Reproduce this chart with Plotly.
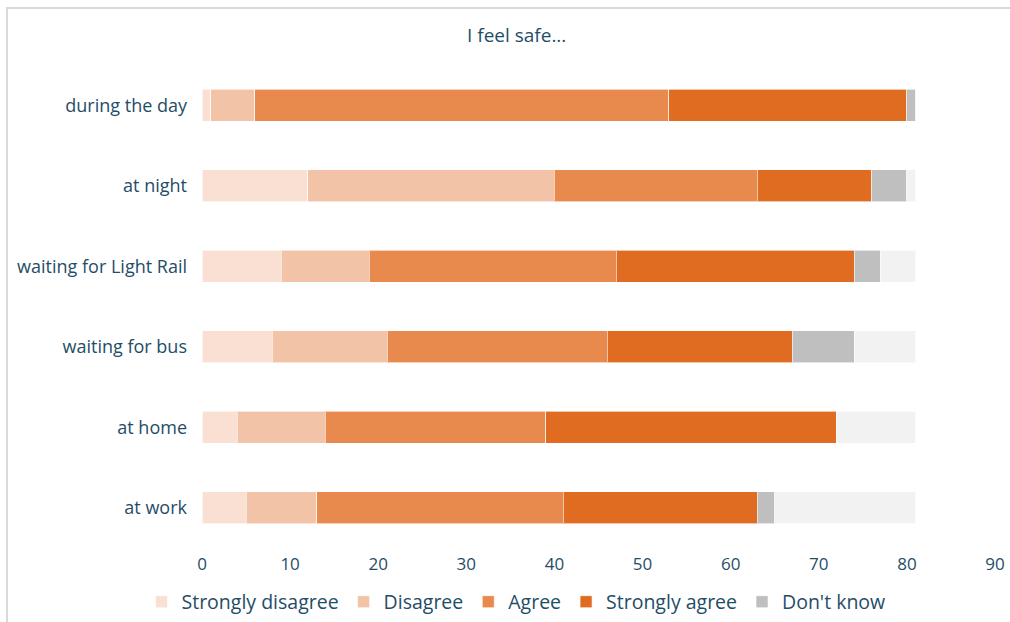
import plotly.graph_objects as go

# Survey responses: "I feel safe..." (counts of respondents)
places = ["during the day", "at night", "waiting for Light Rail",
          "waiting for bus", "at home", "at work"]

strongly_disagree = [1, 12, 9, 8, 4, 5]
disagree = [5, 28, 10, 13, 10, 8]
agree = [47, 23, 28, 25, 25, 28]
strongly_agree = [27, 13, 27, 21, 33, 22]
dont_know = [1, 4, 3, 7, 0, 2]
no_answer = [0, 1, 4, 7, 9, 16]

x_ticks = [0, 10, 20, 30, 40, 50, 60, 70, 80, 90]

series = [
    ("Strongly disagree", strongly_disagree, "#f9e0d3", True),
    ("Disagree", disagree, "#f3c3a8", True),
    ("Agree", agree, "#e88a4e", True),
    ("Strongly agree", strongly_agree, "#e06c22", True),
    ("Don't know", dont_know, "#bfbfbf", True),
    ("No answer", no_answer, "#f2f2f2", False),
]

TEXT = "#1f4d68"
FONT = "Open Sans"

W, H = 1010, 622
ML, MR, MT, MB = 202, 15, 65, 74
PW, PH = W - ML - MR, H - MT - MB

fig = go.Figure()
for name, vals, color, show in series:
    fig.add_trace(go.Bar(
        y=places, x=vals, name=name, orientation="h",
        marker=dict(color=color, line=dict(color="rgba(255,255,255,0.6)", width=1)),
        showlegend=show, hoverinfo="x+name",
    ))

# light frame around the chart: only its top and left edges are in view
fx0 = (7 - ML) / PW
fx1 = (W - ML) / PW
fy0 = -(H - MT - PH) / PH
fy1 = (PH + MT - 8) / PH
fig.add_shape(type="path", xref="paper", yref="paper",
              path=f"M {fx0},{fy0} L {fx0},{fy1} L {fx1},{fy1}",
              line=dict(color="#d9d9d9", width=2), layer="below")

fig.add_annotation(text="I feel safe...", xref="paper", yref="paper",
                   x=(516 - ML) / PW, y=(PH + MT - 35) / PH,
                   xanchor="center", yanchor="middle", showarrow=False,
                   font=dict(family=FONT, size=19, color=TEXT))

fig.update_layout(
    width=W, height=H,
    margin=dict(l=ML, r=MR, t=MT, b=MB, autoexpand=False),
    barmode="stack", bargap=0.6,
    plot_bgcolor="white", paper_bgcolor="white",
    font=dict(family=FONT, size=18, color=TEXT),
    xaxis=dict(range=[0, 90], tickvals=x_ticks, showgrid=False,
               zeroline=False, showline=False, ticks="",
               tickfont=dict(size=17, color=TEXT), ticklabelstandoff=4),
    yaxis=dict(categoryorder="array", categoryarray=places[::-1],
               showgrid=False, zeroline=False, showline=False, ticks="",
               tickfont=dict(size=18, color=TEXT), ticklabelstandoff=14),
    legend=dict(orientation="h", x=(516 - ML) / PW, xanchor="center",
                y=-(602 - MT - PH) / PH, yanchor="middle",
                font=dict(size=19.5, color=TEXT), traceorder="normal",
                itemwidth=30),
)

fig.write_html("out.html")
